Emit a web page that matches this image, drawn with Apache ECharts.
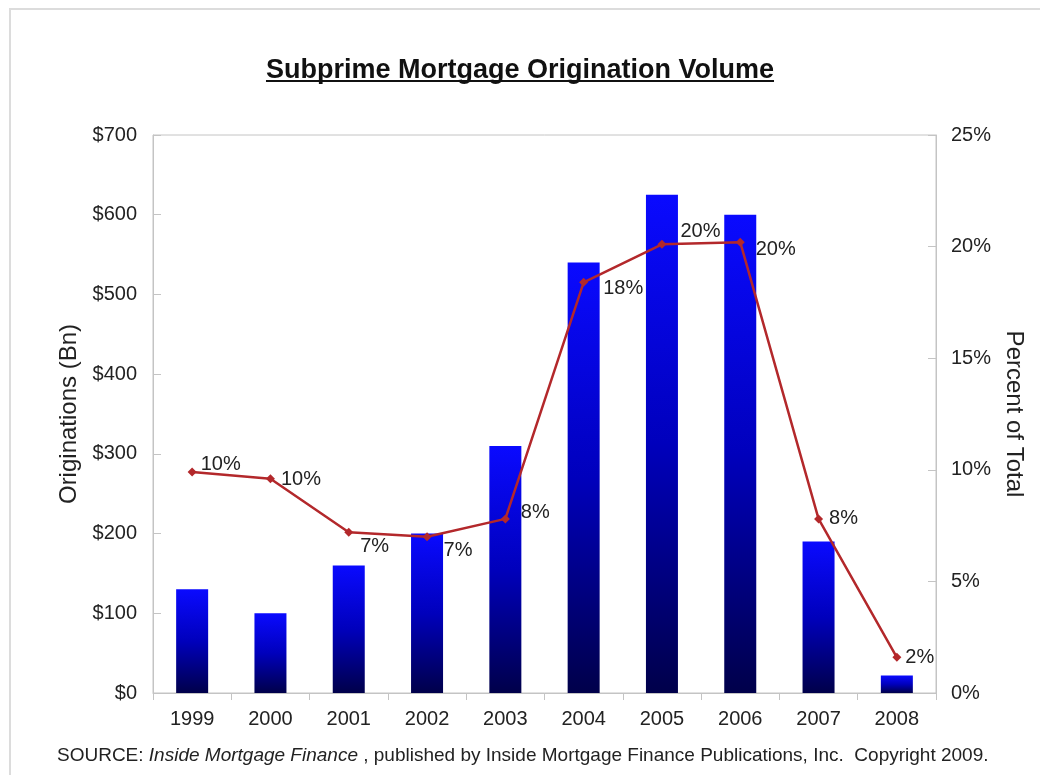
<!DOCTYPE html>
<html>
<head>
<meta charset="utf-8">
<script src="https://cdn.jsdelivr.net/npm/echarts@6/dist/echarts.min.js"></script>
<style>
  html, body { margin: 0; padding: 0; background: #fff; }
  #chart { width: 1040px; height: 775px; }
</style>
</head>
<body>
<div id="chart"></div>
<script>
// Subprime originations by year, in billions of dollars
const years = ['1999', '2000', '2001', '2002', '2003', '2004', '2005', '2006', '2007', '2008'];
const originations = [130, 100, 160, 200, 310, 540, 625, 600, 190, 22];
// Subprime share of all mortgage originations, percent
const shareOfTotal = [9.9, 9.6, 7.2, 7.0, 7.8, 18.4, 20.1, 20.2, 7.8, 1.6];
// Axis tick settings
const leftTicks = { min: 0, max: 700, interval: 100 };
const rightTicks = { min: 0, max: 25, interval: 5 };

const FONT = '"Liberation Sans", Arial, sans-serif';
const TEXT = '#222';
const AXIS = '#c4c4c4';

// Nudges for the percent labels so they clear the line and bars
const labelNudge = [[0, -8], [2, 1], [3, 14], [8, 14], [7, -6], [11, 6], [10, -13], [7, 7], [2, 0], [0, 0]];

const titleText = 'Subprime Mortgage Origination Volume';
const titleSize = 27;
const titleFont = 'bold ' + titleSize + 'px ' + FONT;
const titleY = 52;

function textWidth(str, font) {
  const c = document.createElement('canvas').getContext('2d');
  c.font = font;
  return c.measureText(str).width;
}

const chart = echarts.init(document.getElementById('chart'), null, { renderer: 'canvas' });
const W = 1040;
const tw = textWidth(titleText, titleFont);

const option = {
  backgroundColor: '#fff',
  animation: false,
  title: {
    text: titleText,
    left: 'center',
    top: titleY,
    textStyle: { fontFamily: FONT, fontWeight: 'bold', fontSize: titleSize, color: '#111' }
  },
  graphic: [
    { type: 'rect', silent: true, shape: { x: 10, y: 9, width: 1040, height: 800 },
      style: { fill: 'none', stroke: '#dcdcdc', lineWidth: 2 } },
    { type: 'line', silent: true,
      shape: { x1: W / 2 - tw / 2, y1: titleY + 29, x2: W / 2 + tw / 2, y2: titleY + 29 },
      style: { stroke: '#111', lineWidth: 2.2 } },
    { type: 'text', silent: true, left: 57, top: 746,
      style: {
        text: '{n|SOURCE: }{i|Inside Mortgage Finance}{n| , published by Inside Mortgage Finance Publications, Inc.  Copyright 2009.}',
        rich: {
          n: { fontFamily: FONT, fontSize: 19, fill: TEXT },
          i: { fontFamily: FONT, fontSize: 19, fontStyle: 'italic', fill: TEXT }
        }
      } }
  ],
  grid: { left: 153, right: 104, top: 135, bottom: 82, show: true, borderColor: AXIS, borderWidth: 1 },
  xAxis: {
    type: 'category',
    data: years,
    axisLine: { lineStyle: { color: AXIS } },
    axisTick: { show: true, length: 7, lineStyle: { color: AXIS } },
    axisLabel: { color: TEXT, fontFamily: FONT, fontSize: 20, margin: 16 }
  },
  yAxis: [
    {
      type: 'value', min: leftTicks.min, max: leftTicks.max, interval: leftTicks.interval,
      name: 'Originations (Bn)', nameLocation: 'middle', nameGap: 66, nameRotate: 90,
      nameTextStyle: { color: TEXT, fontFamily: FONT, fontSize: 24 },
      axisLine: { show: true, lineStyle: { color: AXIS } },
      axisTick: { show: true, inside: true, length: 8, lineStyle: { color: AXIS } },
      splitLine: { show: false },
      axisLabel: { color: TEXT, fontFamily: FONT, fontSize: 20, margin: 16, formatter: v => '$' + v }
    },
    {
      type: 'value', min: rightTicks.min, max: rightTicks.max, interval: rightTicks.interval,
      position: 'right',
      name: 'Percent of Total', nameLocation: 'middle', nameGap: 53, nameRotate: -90,
      nameTextStyle: { color: TEXT, fontFamily: FONT, fontSize: 24 },
      axisLine: { show: true, lineStyle: { color: AXIS } },
      axisTick: { show: true, inside: true, length: 8, lineStyle: { color: AXIS } },
      splitLine: { show: false },
      axisLabel: { color: TEXT, fontFamily: FONT, fontSize: 20, margin: 15, formatter: v => v + '%' }
    }
  ],
  series: [
    {
      type: 'bar',
      data: originations,
      barWidth: 32,
      itemStyle: {
        color: new echarts.graphic.LinearGradient(0, 0, 0, 1, [
          { offset: 0, color: '#0a0aff' },
          { offset: 0.5, color: '#0000bc' },
          { offset: 1, color: '#00004a' }
        ])
      }
    },
    {
      type: 'line',
      yAxisIndex: 1,
      data: shareOfTotal.map((v, i) => ({
        value: v,
        label: { offset: labelNudge[i] }
      })),
      symbol: 'diamond',
      symbolSize: 9,
      lineStyle: { color: '#b3282b', width: 2.5 },
      itemStyle: { color: '#b3282b' },
      label: {
        show: true, position: 'right', distance: 4,
        color: TEXT, fontFamily: FONT, fontSize: 20,
        formatter: p => Math.round(p.value) + '%'
      },
      z: 5
    }
  ]
};

chart.setOption(option);
</script>
</body>
</html>
